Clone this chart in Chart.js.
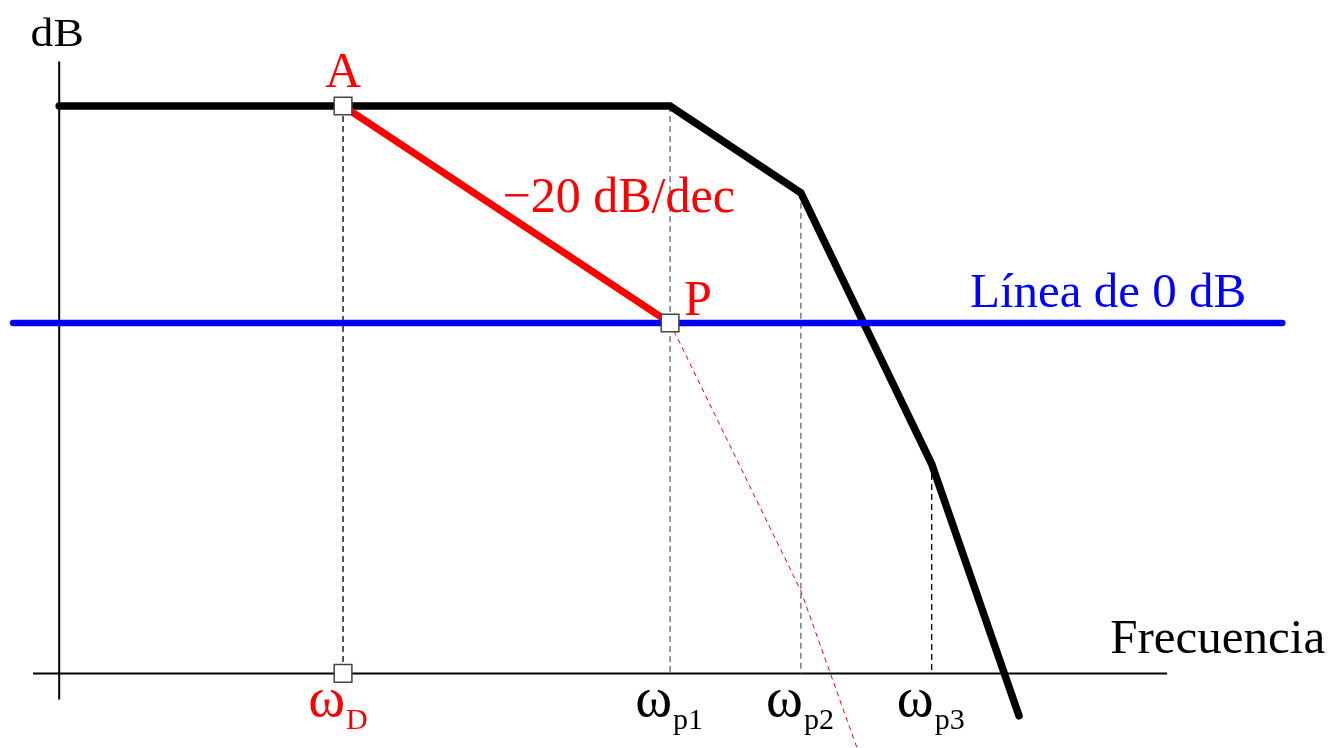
<!DOCTYPE html>
<html>
<head>
<meta charset="utf-8">
<script src="https://cdn.jsdelivr.net/npm/chart.js@4.4.1/dist/chart.umd.min.js"></script>
<style>
  html, body { margin: 0; padding: 0; background: #fff; }
  #wrap { width: 1330px; height: 748px; }
</style>
</head>
<body>
<div id="wrap"><canvas id="bode"></canvas></div>
<script>
// x: decades relative to ωD, y: magnitude in dB
const breakNames = ["D", "p1", "p2", "p3"];
const breakDecades = [0, 1.0, 1.4, 1.8];
const breakGainDb = [20, 20, 12, -13];

// open-loop asymptote (black)
const gainDecades = [-0.868, 1.0, 1.4, 1.8, 2.067];
const gainDb = [20, 20, 12, -13, -36.2];

// dominant-pole compensation, −20 dB/dec from A to P (red)
const compDecades = [0, 1.0];
const compDb = [20, 0];

// compensated response past P (thin red dashes)
const tailDecades = [1.0, 1.4, 1.572];
const tailDb = [0, -24.7, -39.2];

// 0 dB line and the two axes
const zeroLineDecades = [-1.009, 2.872];
const freqAxisDecades = [-0.948, 2.52];
const freqAxisDb = -32.3;
const dbAxisDecade = -0.868;
const dbAxisRange = [-34.7, 24.1];

const serif = '"Liberation Serif", "Times New Roman", "DejaVu Serif", serif';
const red = "#ff0000";
const blue = "#0000ff";

function pts(xs, ys) {
  return xs.map((x, i) => ({ x: x, y: Array.isArray(ys) ? ys[i] : ys }));
}

const datasets = [];

// square markers at A, P and ωD
datasets.push({
  data: [
    { x: compDecades[0], y: compDb[0] },
    { x: compDecades[1], y: compDb[1] },
    { x: breakDecades[0], y: freqAxisDb },
  ],
  showLine: false,
  pointStyle: "rect",
  pointRadius: 12.5,
  pointBackgroundColor: "#ffffff",
  pointBorderColor: "#444444",
  pointBorderWidth: 1.5,
  order: 0,
});

datasets.push({
  data: pts(zeroLineDecades, 0),
  borderColor: blue,
  borderWidth: 6.5,
  borderCapStyle: "round",
  order: 1,
});

datasets.push({
  data: pts(compDecades, compDb),
  borderColor: red,
  borderWidth: 7,
  borderCapStyle: "round",
  order: 2,
});

datasets.push({
  data: pts(gainDecades, gainDb),
  borderColor: "#000000",
  borderWidth: 7.5,
  borderCapStyle: "round",
  borderJoinStyle: "miter",
  order: 3,
});

datasets.push({
  data: pts(tailDecades, tailDb),
  borderColor: red,
  borderWidth: 1,
  borderDash: [5, 4],
  order: 4,
});

// dashed drops from each break frequency to the axis
breakDecades.forEach((d, i) => {
  datasets.push({
    data: [{ x: d, y: breakGainDb[i] }, { x: d, y: freqAxisDb }],
    borderColor: i === 1 || i === 2 ? "#666666" : "#000000",
    borderWidth: 1.3,
    borderDash: [6, 4],
    order: 5,
  });
});

datasets.push({
  data: pts(freqAxisDecades, freqAxisDb),
  borderColor: "#000000",
  borderWidth: 2,
  order: 6,
});

datasets.push({
  data: [{ x: dbAxisDecade, y: dbAxisRange[0] }, { x: dbAxisDecade, y: dbAxisRange[1] }],
  borderColor: "#000000",
  borderWidth: 2,
  order: 6,
});

const labelsPlugin = {
  id: "bodeLabels",
  afterDatasetsDraw(chart) {
    const { ctx } = chart;
    const sx = chart.scales.x;
    const sy = chart.scales.y;
    const px = (v) => sx.getPixelForValue(v);
    const py = (v) => sy.getPixelForValue(v);

    function text(str, x, y, color, size, align) {
      ctx.font = size + "px " + serif;
      ctx.fillStyle = color;
      ctx.textAlign = align || "left";
      ctx.textBaseline = "alphabetic";
      ctx.fillText(str, x, y);
    }

    ctx.save();

    // "dB" on top of the vertical axis, a bit wider than tall
    ctx.save();
    ctx.translate(px(dbAxisDecade) - 2, py(dbAxisRange[1]) - 16);
    ctx.scale(1.2, 1.05);
    text("dB", 0, 0, "#000", 38, "center");
    ctx.restore();

    text("Frecuencia", px(freqAxisDecades[1]) + 158, py(freqAxisDb) - 20, "#000", 49, "right");

    text("A", px(compDecades[0]), py(compDb[0]) - 19, red, 50, "center");
    text("P", px(compDecades[1]) + 14, py(compDb[1]) - 8, red, 50, "left");
    const midX = (px(compDecades[0]) + px(compDecades[1])) / 2;
    const midY = (py(compDb[0]) + py(compDb[1])) / 2;
    text("\u221220 dB/dec", midX - 4, midY - 3, red, 50, "left");

    text("L\u00ednea de 0 dB", px(zeroLineDecades[1]) - 36, py(0) - 16, blue, 49, "right");

    // ω labels under each break frequency
    breakNames.forEach((name, i) => {
      const x = px(breakDecades[i]);
      const color = i === 0 ? red : "#000";
      text("\u03c9", x + 2, py(freqAxisDb) + 43, color, 56, "right");
      text(name, x + 3, py(freqAxisDb) + 56, color, 30, "left");
    });

    ctx.restore();
  },
};

new Chart(document.getElementById("bode").getContext("2d"), {
  type: "scatter",
  data: { datasets: datasets },
  options: {
    responsive: true,
    maintainAspectRatio: false,
    animation: false,
    layout: { padding: 0, autoPadding: false },
    elements: { point: { radius: 0 }, line: { tension: 0 } },
    datasets: { scatter: { showLine: true, pointRadius: 0, clip: false } },
    plugins: { legend: { display: false }, tooltip: { enabled: false } },
    scales: {
      x: { type: "linear", min: -1.049, max: 3.018, display: false },
      y: { type: "linear", min: -39.17, max: 29.77, display: false },
    },
  },
  plugins: [labelsPlugin],
});
</script>
</body>
</html>
